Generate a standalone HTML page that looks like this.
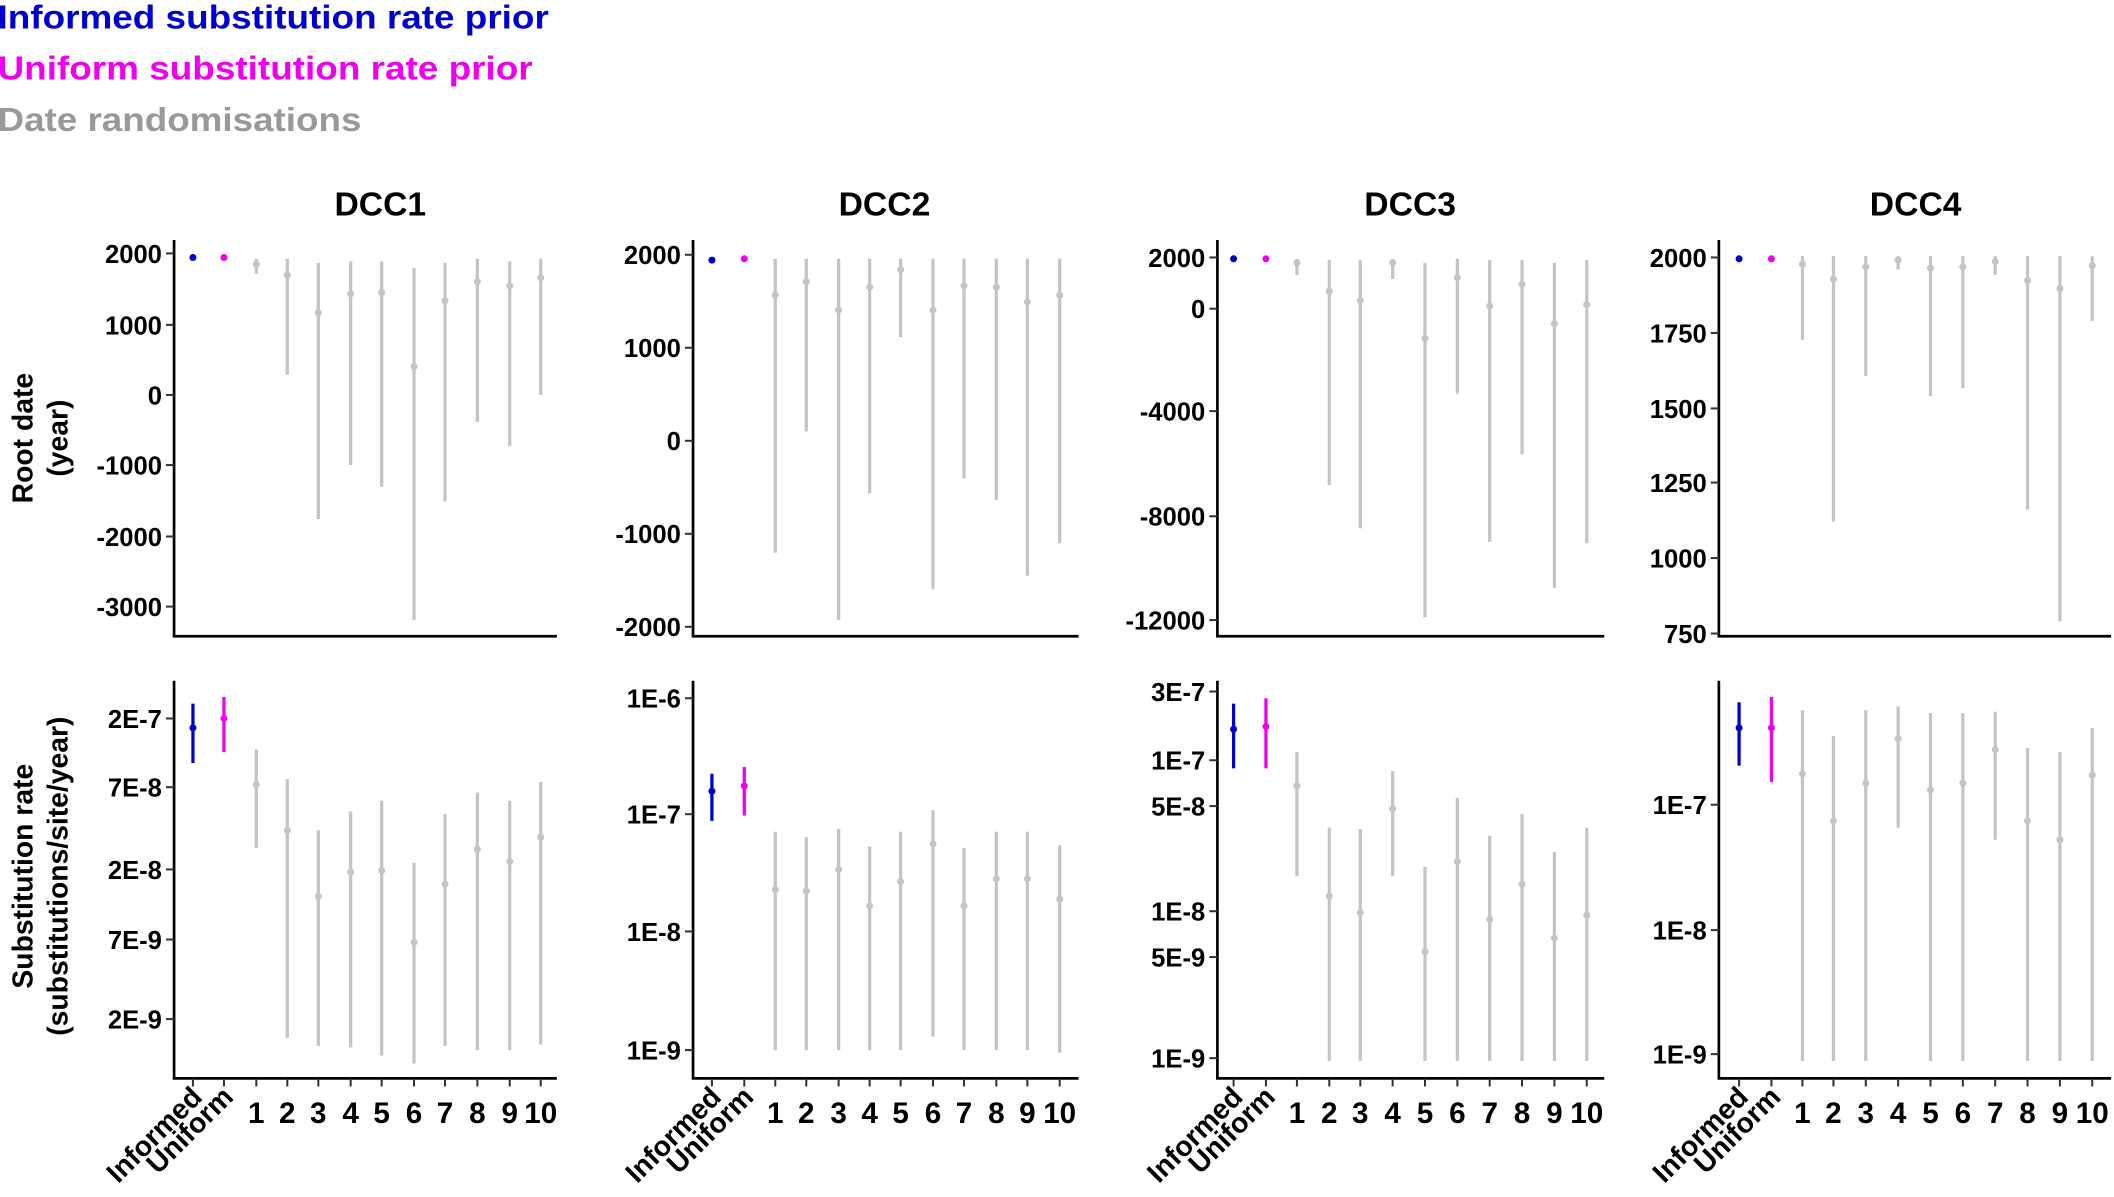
<!DOCTYPE html>
<html><head><meta charset="utf-8"><style>
html,body{margin:0;padding:0;background:#fff;}
svg{display:block;font-family:"Liberation Sans",Arial,sans-serif;font-weight:bold;}
</style></head><body>
<svg id="s" width="2114" height="1197" viewBox="0 0 1568 888" xmlns="http://www.w3.org/2000/svg">
<text x="-2" y="21" font-size="25" textLength="409" lengthAdjust="spacingAndGlyphs" fill="#0000d0">Informed substitution rate prior</text>
<text x="-2" y="59" font-size="25" textLength="397" lengthAdjust="spacingAndGlyphs" fill="#ee00ee">Uniform substitution rate prior</text>
<text x="-2" y="97" font-size="25" textLength="270" lengthAdjust="spacingAndGlyphs" fill="#999">Date randomisations</text>
<text x="282" y="160" font-size="25" text-anchor="middle">DCC1</text>
<text x="656" y="160" font-size="25" text-anchor="middle">DCC2</text>
<text x="1046" y="160" font-size="25" text-anchor="middle">DCC3</text>
<text x="1421" y="160" font-size="25" text-anchor="middle">DCC4</text>
<text transform="translate(24,325) rotate(-90)" font-size="21" text-anchor="middle">Root date</text>
<text transform="translate(50,325) rotate(-90)" font-size="21" text-anchor="middle">(year)</text>
<text transform="translate(24,650) rotate(-90)" font-size="21" text-anchor="middle">Substitution rate</text>
<text transform="translate(50,650) rotate(-90)" font-size="21" text-anchor="middle">(substitutions/site/year)</text>
<g id="g"></g>
</svg>
<script>
var cols=[
 {ax:129,end:413,xs:[143,166,190,213,236,260,283,307,330,354,378,401],
  top:{t:[["2000",188],["1000",241],["0",293],["-1000",345],["-2000",398],["-3000",450]],
   d:[[191,191,191],[191,191,191],[196,192,203],[204,192,278],[232,195,385],[218,194,345],[217,194,361],[272,199,460],[223,195,372],[209,192,313],[212,194,331],[206,192,293]]},
  bot:{t:[["2E-7",533],["7E-8",584],["2E-8",645],["7E-9",697],["2E-9",756]],
   d:[[540,522,566],[533,517,558],[582,556,629],[616,578,770],[665,616,776],[647,602,777],[646,594,783],[699,640,789],[656,604,776],[630,588,779],[639,594,779],[621,580,775]]}},
 {ax:514,end:800,xs:[528,552,575,598,622,645,668,692,715,739,762,786],
  top:{t:[["2000",189],["1000",258],["0",327],["-1000",396],["-2000",465]],
   d:[[193,193,193],[192,192,192],[219,192,410],[209,192,320],[230,192,460],[213,192,366],[200,192,250],[230,192,437],[212,192,355],[213,192,371],[224,192,427],[219,192,403]]},
  bot:{t:[["1E-6",518],["1E-7",604],["1E-8",691],["1E-9",779]],
   d:[[587,574,609],[583,569,605],[660,617,779],[661,621,779],[645,615,779],[672,628,779],[654,617,779],[626,601,769],[672,629,779],[652,617,779],[652,617,779],[667,627,781]]}},
 {ax:903,end:1190,xs:[915,939,962,986,1009,1033,1057,1081,1105,1129,1153,1177],
  top:{t:[["2000",191],["0",229],["-4000",305],["-8000",383],["-12000",460]],
   d:[[192,192,192],[192,192,192],[195,192,204],[216,193,360],[223,193,392],[195,192,207],[251,195,458],[206,192,292],[227,193,402],[211,193,337],[240,195,436],[226,193,403]]},
  bot:{t:[["3E-7",513],["1E-7",564],["5E-8",598],["1E-8",676],["5E-9",710],["1E-9",785]],
   d:[[541,522,570],[539,518,570],[583,558,650],[665,614,787],[677,615,787],[600,572,650],[706,643,787],[639,592,787],[682,620,787],[656,604,787],[696,632,787],[679,614,787]]}},
 {ax:1275,end:1566,xs:[1290,1314,1337,1360,1384,1408,1432,1456,1480,1504,1528,1552],
  top:{t:[["2000",191],["1750",247],["1500",303],["1250",358],["1000",414],["750",470]],
   d:[[192,192,192],[192,192,192],[196,190,252],[207,190,387],[198,190,279],[193,190,200],[199,190,294],[198,190,288],[194,190,204],[208,190,378],[214,190,461],[197,190,238]]},
  bot:{t:[["1E-7",597],["1E-8",690],["1E-9",782]],
   d:[[540,521,568],[540,517,580],[574,527,787],[609,546,787],[581,527,787],[548,524,614],[586,529,787],[581,529,787],[556,528,623],[609,555,787],[623,558,787],[575,540,787]]}}
];
var h='',colr=['#0000cc','#ee00ee'];
function panel(c,p,y0,y1,xt){
 h+='<line x1="'+c.ax+'" y1="'+y0+'" x2="'+c.ax+'" y2="'+y1+'" stroke="#000" stroke-width="2"/>';
 h+='<line x1="'+(c.ax-1)+'" y1="'+y1+'" x2="'+c.end+'" y2="'+y1+'" stroke="#000" stroke-width="2"/>';
 p.t.forEach(function(t){h+='<line x1="'+(c.ax-6)+'" y1="'+t[1]+'" x2="'+c.ax+'" y2="'+t[1]+'" stroke="#333" stroke-width="1.5"/>';
  h+='<text x="'+(c.ax-9)+'" y="'+(t[1]+7)+'" font-size="19" text-anchor="end">'+t[0]+'</text>';});
 p.d.forEach(function(d,i){var col=i<2?colr[i]:'#c4c4c4',x=c.xs[i];
  if(d[2]-d[1]>1)h+='<line x1="'+x+'" y1="'+d[1]+'" x2="'+x+'" y2="'+d[2]+'" stroke="'+col+'" stroke-width="2.4"/>';
  h+='<circle cx="'+x+'" cy="'+d[0]+'" r="2.6" fill="'+col+'"/>';
  if(xt){h+='<line x1="'+x+'" y1="'+y1+'" x2="'+x+'" y2="'+(y1+6)+'" stroke="#333" stroke-width="1.5"/>';
   if(i<2)h+='<text transform="translate('+(x+8)+',815) rotate(-45)" font-size="21" text-anchor="end">'+(i?'Uniform':'Informed')+'</text>';
   else h+='<text x="'+x+'" y="833" font-size="22" text-anchor="middle">'+(i-1)+'</text>';}
 });
}
cols.forEach(function(c){panel(c,c.top,178,472,false);panel(c,c.bot,505,800,true);});
document.getElementById('g').innerHTML=h;
</script>
</body></html>
